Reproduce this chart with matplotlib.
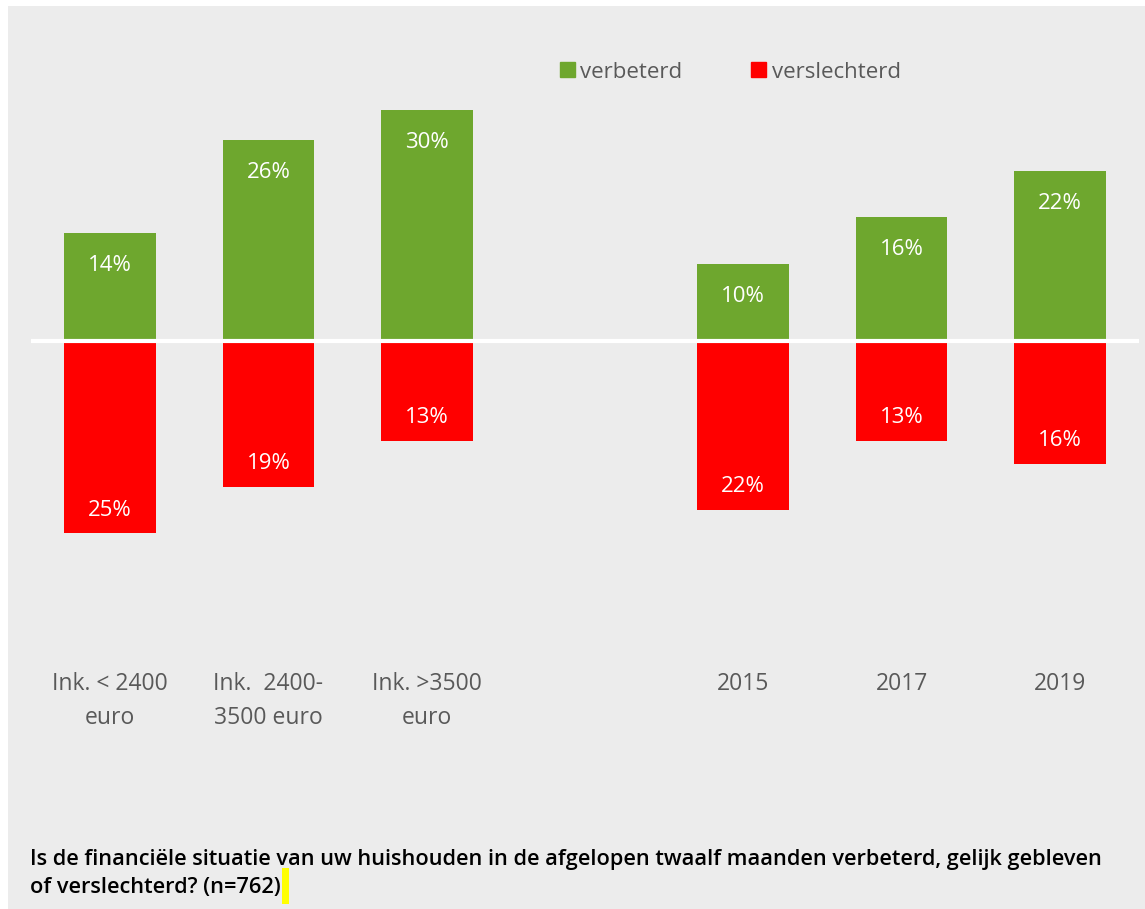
import numpy as np
import matplotlib.pyplot as plt
from matplotlib.patches import Patch, Rectangle

# data
categories = ['Ink. < 2400\neuro', 'Ink.  2400-\n3500 euro', 'Ink. >3500\neuro',
              '2015', '2017', '2019']
slots = [0, 1, 2, 4, 5, 6]  # empty slot between income groups and years
verbeterd = [14, 26, 30, 10, 16, 22]
verslechterd = [25, 19, 13, 22, 13, 16]

green = '#6ea72e'
red = '#ff0000'
bg = '#ececec'
txt_gray = '#595959'

plt.rcParams['font.family'] = ['Open Sans', 'DejaVu Sans']

W, H = 1145, 909
fig = plt.figure(figsize=(W / 100, H / 100), dpi=100)
fig.patch.set_facecolor('white')
fig.add_artist(Rectangle((8 / W, 0), 1 - 8 / W, 1 - 6 / H, transform=fig.transFigure,
                         facecolor=bg, edgecolor='none', zorder=-10))

# axes in pixel terms: x 31..1139, y 6..650 (from top)
ax = fig.add_axes([31 / W, 1 - 650 / H, (1139 - 31) / W, (650 - 6) / H])
ax.set_facecolor('none')
zero_px = 340.5
scale = 7.7
ax.set_xlim(-0.5, 6.5)
ax.set_ylim(-(650 - zero_px) / scale, (zero_px - 6) / scale)

x = np.array(slots)
width = 0.58
ax.bar(x, verbeterd, width, color=green, label='verbeterd')
ax.bar(x, [-v for v in verslechterd], width, color=red, label='verslechterd')
ax.axhline(0, color='white', lw=3)

for xi, v in zip(x, verbeterd):
    ax.annotate(f'{v}%', (xi, v), xytext=(0, -23.5), textcoords='offset points',
                ha='center', va='center', color='white', fontsize=16)
for xi, v in zip(x, verslechterd):
    ax.annotate(f'{v}%', (xi, -v), xytext=(0, 16.5), textcoords='offset points',
                ha='center', va='center', color='white', fontsize=16)

ax.set_yticks([])
ax.set_xticks(x)
ax.set_xticklabels(categories, color=txt_gray, fontsize=16.5, linespacing=1.55, va='top')
ax.tick_params(axis='x', length=0, pad=16)
for s in ax.spines.values():
    s.set_visible(False)

handles = [Patch(color=green), Patch(color=red)]
fig.legend(handles, ['verbeterd', 'verslechterd'], loc='center left',
           bbox_to_anchor=(540 / W, 1 - 72 / H), ncol=2, frameon=False,
           fontsize=16, labelcolor=txt_gray, handlelength=0.67, handleheight=0.67,
           handletextpad=0.25, columnspacing=3.1)

note_kw = dict(fontsize=15.7, fontweight='semibold', color='black', va='center', ha='left')
fig.text(30 / W, 1 - 860 / H,
         'Is de financiële situatie van uw huishouden in de afgelopen twaalf maanden verbeterd, gelijk gebleven',
         **note_kw)
line2 = fig.text(30 / W, 1 - 887 / H, 'of verslechterd? (n=762)', **note_kw)

fig.canvas.draw()
bb = line2.get_window_extent().transformed(fig.transFigure.inverted())
fig.add_artist(Rectangle((bb.x1 + 1 / W, 1 - 904 / H), 7 / W, 36 / H, transform=fig.transFigure,
                         facecolor='#ffff00', edgecolor='none'))

fig.savefig('out.png', dpi=100, facecolor=fig.get_facecolor())
